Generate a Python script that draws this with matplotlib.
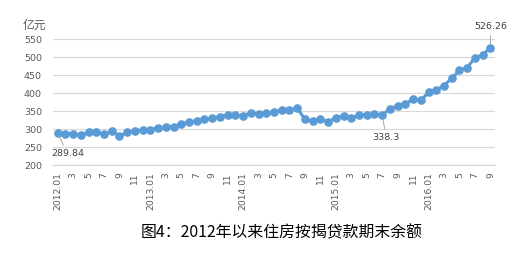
import matplotlib
matplotlib.use("Agg")
import matplotlib.pyplot as plt

months = [f"{y}.{m:02d}" for y in range(2012, 2017) for m in range(1, 13)][:57]
values = [289.84, 288, 288, 284, 292.5, 292, 286, 294.5, 280.5, 291, 295.5, 297, 299,
          304, 306, 307, 315, 319, 324, 328, 331, 335, 339, 339, 336, 346, 342,
          344, 347, 354, 353, 358, 328, 322, 328, 321, 331, 338, 331, 340, 340,
          342, 338.3, 357, 365, 371, 383, 380, 402, 409, 421, 441, 463, 471,
          498, 506, 526.26]
yticks = [200, 250, 300, 350, 400, 450, 500, 550]
annot_idx = [0, 42, 56]
title = "图4：2012年以来住房按揭贷款期末余额"
unit = "亿元"

tick_pos = list(range(0, len(months), 2))
tick_labels = [months[i] if months[i].endswith(".01") else str(int(months[i].split(".")[1]))
               for i in tick_pos]

cjk = ["Noto Sans CJK SC", "DejaVu Sans"]

fig = plt.figure(figsize=(5.17, 2.57), dpi=100)
ax = fig.add_axes([0.1025, 0.3568, 0.855, 0.4914])
x = list(range(len(values)))
ax.plot(x, values, color="#5B9BD5", lw=2.2, marker="o", markersize=5.2,
        markerfacecolor="#5B9BD5", markeredgecolor="#5B9BD5", zorder=3)

ax.set_ylim(200, 550)
ax.set_xlim(-0.6, len(values) - 0.4)
ax.set_yticks(yticks)
ax.set_yticklabels([str(v) for v in yticks], fontsize=6.8, color="#595959")
ax.set_xticks(tick_pos)
ax.set_xticklabels(tick_labels, rotation=90, fontsize=6.6, color="#595959")
ax.tick_params(axis="both", length=0)
ax.tick_params(axis="x", pad=5)
ax.tick_params(axis="y", pad=8)
ax.grid(axis="y", color="#D9D9D9", lw=0.9)
for s in ["top", "right", "left"]:
    ax.spines[s].set_visible(False)
ax.spines["bottom"].set_color("#D9D9D9")
ax.spines["bottom"].set_linewidth(0.9)

offsets = {0: (7, -15), 42: (3, -16), 56: (0, 15)}
for i in annot_idx:
    v = values[i]
    txt = f"{v:g}"
    ax.annotate(txt, xy=(i, v), xytext=offsets[i], textcoords="offset points",
                ha="center", va="center", fontsize=6.8, color="#404040",
                arrowprops=dict(arrowstyle="-", color="#A6A6A6", lw=0.7,
                                shrinkA=1, shrinkB=2.5))

fig.text(0.066, 0.903, unit, fontsize=8.5, color="#595959", family=cjk,
         ha="center", va="center")
fig.text(0.545, 0.093, title, fontsize=11.4, color="#000000", family=cjk,
         ha="center", va="center")

fig.savefig("out.png", dpi=100)
